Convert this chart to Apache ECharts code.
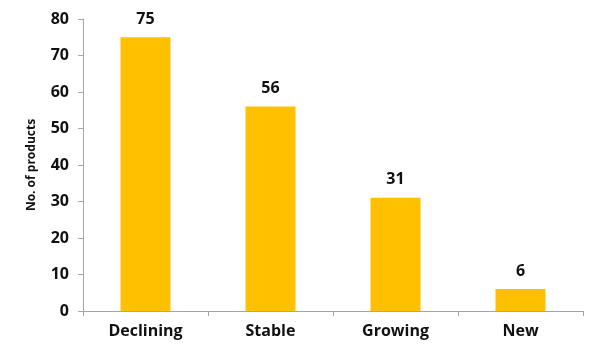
<!DOCTYPE html>
<html><head><meta charset="utf-8">
<script src="https://cdn.jsdelivr.net/npm/echarts@6/dist/echarts.min.js"></script>
<style>html,body{margin:0;padding:0;background:#fff}#c{width:600px;height:359px}</style>
</head><body><div id="c"></div>
<script>
const categories = ["Declining", "Stable", "Growing", "New"];
const values = [75, 56, 31, 6];
const yTicks = [0, 10, 20, 30, 40, 50, 60, 70, 80];

const chart = echarts.init(document.getElementById('c'), null, {renderer: 'canvas'});
const font = '"Open Sans", "DejaVu Sans", sans-serif';
chart.setOption({
  animation: false,
  grid: {left: 83, right: 17, top: 19, bottom: 48},
  xAxis: {
    type: 'category', data: categories,
    axisLine: {lineStyle: {color: '#a6a6a6', width: 1}},
    axisTick: {show: true, alignWithLabel: false, length: 5, lineStyle: {color: '#a6a6a6'}},
    axisLabel: {color: '#111', fontWeight: 'bold', fontSize: 16, fontFamily: font, margin: 12}
  },
  yAxis: {
    type: 'value', min: yTicks[0], max: yTicks[yTicks.length - 1], interval: 10,
    name: 'No. of products', nameLocation: 'middle', nameGap: 45, nameRotate: 90,
    nameTextStyle: {color: '#111', fontSize: 12, fontWeight: 'bold', fontFamily: font},
    axisLine: {show: true, lineStyle: {color: '#a6a6a6', width: 1}},
    axisTick: {show: true, length: 5, lineStyle: {color: '#a6a6a6'}},
    splitLine: {show: false},
    axisLabel: {color: '#111', fontWeight: 'bold', fontSize: 16, fontFamily: font, margin: 14}
  },
  series: [{
    type: 'bar', data: values, barWidth: '40%',
    itemStyle: {color: '#FFC000'},
    label: {show: true, position: 'top', distance: 10, color: '#111', fontWeight: 'bold', fontSize: 16, fontFamily: font}
  }]
});
</script></body></html>
